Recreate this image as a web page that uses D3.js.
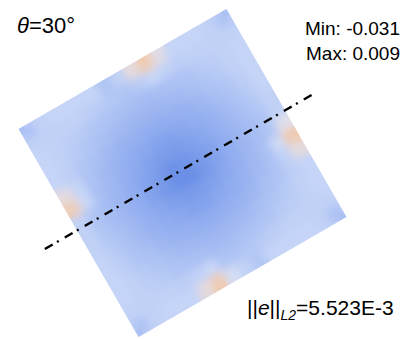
<!DOCTYPE html>
<html>
<head>
<meta charset="utf-8">
<script src="https://cdn.jsdelivr.net/npm/d3@7"></script>
<style>
  body { margin: 0; background: #fff; }
  svg { display: block; font-family: "Liberation Sans", Arial, sans-serif; }
</style>
</head>
<body>
<div id="chart"></div>
<script>
// rotation angle of the plate (degrees)
var theta = 30;

// error field on a 16x16 grid, in units of 1e-3 (rows top->bottom in the plate frame)
var errRows = [
  [-11,-6,-5,-5,-5,-5,-10,-6,3,9,2,-5,-5,-5,-6,-11],
  [-6,-6,-6,-6,-7,-8,-9,-10,-8,-4,-6,-7,-6,-6,-6,-6],
  [-5,-6,-7,-8,-10,-11,-12,-13,-13,-12,-11,-10,-8,-7,-6,-5],
  [-5,-6,-8,-10,-12,-14,-15,-16,-16,-15,-14,-12,-10,-8,-6,-5],
  [-5,-7,-10,-12,-15,-17,-18,-19,-19,-18,-17,-15,-12,-10,-7,-5],
  [3,-5,-11,-14,-17,-19,-21,-23,-23,-21,-19,-17,-14,-11,-8,-5],
  [8,-4,-12,-15,-18,-21,-24,-26,-26,-24,-21,-18,-15,-12,-9,-6],
  [-6,-10,-13,-16,-19,-23,-26,-30,-29,-26,-23,-19,-16,-13,-10,-6],
  [-6,-10,-13,-16,-19,-23,-27,-31,-31,-27,-23,-19,-16,-13,-10,1],
  [-6,-9,-12,-15,-18,-21,-24,-26,-26,-24,-21,-18,-15,-12,-3,9],
  [-5,-8,-11,-14,-17,-19,-21,-23,-23,-21,-19,-17,-14,-11,-6,3],
  [-5,-7,-10,-12,-15,-17,-18,-19,-19,-18,-17,-15,-12,-10,-7,-5],
  [-5,-6,-8,-10,-12,-14,-15,-16,-16,-15,-14,-12,-10,-8,-6,-5],
  [-5,-6,-7,-8,-10,-11,-12,-13,-13,-12,-11,-10,-8,-7,-6,-5],
  [-6,-6,-6,-6,-7,-6,-4,-10,-10,-9,-8,-7,-6,-6,-6,-6],
  [-11,-6,-5,-5,-5,3,9,-2,-6,-9,-5,-5,-5,-5,-6,-11]
];

// colour stops (value in 1e-3)
var colorStops = [-31, -20, -10, -4, 0, 9];
var colorRange = ["#6a8fe6", "#8eaaef", "#b0c5f4", "#c9d7f7", "#dee2f1", "#efcbb1"];

// section line, plate coordinates in [-1, 1]
var cutLine = [[-1.31, 0.025], [1.26, 0.025]];

var l2Norm = "5.523E-3";

var svgWidth = 411, svgHeight = 339;
var side = 240;
var center = [182.5, 173];

var svg = d3.select("#chart").append("svg")
    .attr("width", svgWidth)
    .attr("height", svgHeight);

var cells = [];
errRows.forEach(function(row, i) {
    row.forEach(function(v, j) { cells.push({ i: i, j: j, v: v }); });
});

var n = errRows.length;
var colScale = d3.scaleBand().domain(d3.range(n)).range([-side / 2, side / 2]);
var rowScale = d3.scaleBand().domain(d3.range(n)).range([-side / 2, side / 2]);
var xScale = d3.scaleLinear().domain([-1, 1]).range([-side / 2, side / 2]);
var yScale = d3.scaleLinear().domain([-1, 1]).range([side / 2, -side / 2]);
var color = d3.scaleLinear().domain(colorStops).range(colorRange);

var defs = svg.append("defs");
defs.append("clipPath").attr("id", "plateClip")
    .append("rect")
    .attr("x", -side / 2).attr("y", -side / 2)
    .attr("width", side).attr("height", side);
var blur = defs.append("filter").attr("id", "soft")
    .attr("x", "-10%").attr("y", "-10%").attr("width", "120%").attr("height", "120%");
blur.append("feGaussianBlur").attr("stdDeviation", 4).attr("edgeMode", "duplicate");

var plate = svg.append("g")
    .attr("transform", `translate(${center[0]},${center[1]}) rotate(${-theta})`);

var clipped = plate.append("g").attr("clip-path", "url(#plateClip)");

// underlay so the blurred edge does not fade to white
clipped.append("g")
    .attr("transform", "scale(1.08)")
    .selectAll("rect")
    .data(cells)
    .enter()
    .append("rect")
    .attr("x", d => colScale(d.j) - 0.5)
    .attr("y", d => rowScale(d.i) - 0.5)
    .attr("width", colScale.bandwidth() + 1)
    .attr("height", rowScale.bandwidth() + 1)
    .attr("fill", d => color(d.v));

clipped.append("g")
    .attr("filter", "url(#soft)")
    .selectAll("rect")
    .data(cells)
    .enter()
    .append("rect")
    .attr("x", d => colScale(d.j) - 0.5)
    .attr("y", d => rowScale(d.i) - 0.5)
    .attr("width", colScale.bandwidth() + 1)
    .attr("height", rowScale.bandwidth() + 1)
    .attr("fill", d => color(d.v));

// dash-dot section line
plate.append("path")
    .datum(cutLine)
    .attr("d", d3.line().x(d => xScale(d[0])).y(d => yScale(d[1])))
    .attr("fill", "none")
    .attr("stroke", "#000")
    .attr("stroke-width", 2.5)
    .attr("stroke-dasharray", "9,5,2,7");

// labels
var t = svg.append("text")
    .attr("x", 17).attr("y", 33)
    .attr("font-size", 22);
t.append("tspan").attr("font-style", "italic").text("θ");
t.append("tspan").text(`=${theta}°`);

var fmt = d3.formatLocale({ decimal: ".", thousands: ",", grouping: [3], currency: ["", ""], minus: "-" }).format(".3f");
var vmin = d3.min(cells, d => d.v) / 1000;
var vmax = d3.max(cells, d => d.v) / 1000;
svg.append("text")
    .attr("x", 400).attr("y", 35)
    .attr("text-anchor", "end")
    .attr("font-size", 19)
    .text("Min: " + fmt(vmin));
svg.append("text")
    .attr("x", 400).attr("y", 60)
    .attr("text-anchor", "end")
    .attr("font-size", 19)
    .text("Max: " + fmt(vmax));

var nt = svg.append("text")
    .attr("x", 247).attr("y", 315)
    .attr("font-size", 21);
nt.append("tspan").text("||");
nt.append("tspan").attr("font-style", "italic").text("e");
nt.append("tspan").text("||");
nt.append("tspan").attr("font-style", "italic").attr("font-size", 14).attr("dy", 5).text("L2");
nt.append("tspan").attr("dy", -5).text("=" + l2Norm);
</script>
</body>
</html>
